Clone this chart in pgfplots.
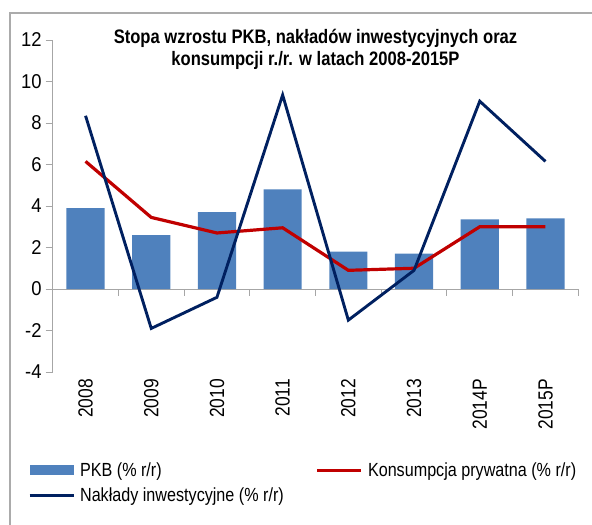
\documentclass[border=0pt]{standalone}
\usepackage{fontspec}
\setmainfont{Liberation Sans}[FakeStretch=0.85]
\newfontfamily\yfont{Liberation Sans}[FakeStretch=0.92]
\usepackage{pgfplots}
\pgfplotsset{compat=1.18}
\definecolor{barblue}{HTML}{4F81BD}
\definecolor{consred}{HTML}{C00000}
\definecolor{invnavy}{HTML}{002060}
\definecolor{axgray}{HTML}{A6A6A6}
\definecolor{framegray}{HTML}{ABABAB}
\begin{document}
\begin{tikzpicture}[x=1pt,y=1pt]
\path[use as bounding box] (0,0) rectangle (592,-525);
\draw[framegray, line width=1.5pt] (10,-525) -- (10,-13) -- (592,-13);
\begin{axis}[
  at={(52.7pt,-372pt)}, anchor=south west,
  width=525.6pt, height=332pt, scale only axis,
  xmin=-0.5, xmax=7.5, ymin=-4, ymax=12,
  axis line style={draw=none},
  xtick={0,1,2,3,4,5,6,7},
  xticklabels={2008,2009,2010,2011,2012,2013,2014P,2015P},
  xtick style={draw=none},
  xticklabel style={rotate=90, anchor=east, inner sep=0pt, font=\fontsize{20.5}{24}\selectfont},
  ytick={-4,-2,0,2,4,6,8,10,12},
  ytick pos=left, tick align=outside, major tick length=7pt,
  ytick style={draw=axgray, line width=1pt},
  yticklabel style={font=\yfont\fontsize{20}{23}\selectfont, inner sep=0pt, xshift=-4pt},
  /pgf/number format/assume math mode=true,
  clip=false,
  legend columns=2,
  legend cell align=left,
  legend style={
    at={(axis description cs:-0.047,-0.266)}, anchor=north west,
    draw=none, fill=none, inner sep=0pt,
    font=\fontsize{19}{22}\selectfont,
    /tikz/every odd column/.append style={column sep=3pt},
    /tikz/every even column/.append style={column sep=30pt},
    row sep=6pt,
  },
]
\draw[axgray, line width=1pt] (axis cs:-0.5,-4) -- (axis cs:-0.5,12);
\draw[axgray, line width=1pt] (axis cs:-0.5,0) -- (axis cs:7.5,0);
\draw[axgray, line width=1pt] (axis cs:0.5,0) -- ++(0pt,-7pt);
\draw[axgray, line width=1pt] (axis cs:1.5,0) -- ++(0pt,-7pt);
\draw[axgray, line width=1pt] (axis cs:2.5,0) -- ++(0pt,-7pt);
\draw[axgray, line width=1pt] (axis cs:3.5,0) -- ++(0pt,-7pt);
\draw[axgray, line width=1pt] (axis cs:4.5,0) -- ++(0pt,-7pt);
\draw[axgray, line width=1pt] (axis cs:5.5,0) -- ++(0pt,-7pt);
\draw[axgray, line width=1pt] (axis cs:6.5,0) -- ++(0pt,-7pt);
\draw[axgray, line width=1pt] (axis cs:7.5,0) -- ++(0pt,-7pt);
\addplot[ybar, bar width=0.58, fill=barblue, draw=none,
  legend image code/.code={\fill[barblue] (0pt,-5pt) rectangle (44pt,5pt);}]
  coordinates {(0,3.9) (1,2.6) (2,3.7) (3,4.8) (4,1.8) (5,1.7) (6,3.35) (7,3.4)};
\addlegendentry{PKB (\% r/r)}
\addplot[consred, line width=3.2pt,
  legend image code/.code={\draw[consred, line width=3.2pt] (0pt,0pt) -- (44pt,0pt);}]
  coordinates {(0,6.15) (1,3.45) (2,2.7) (3,2.95) (4,0.9) (5,1.0) (6,3.0) (7,3.0)};
\addlegendentry{Konsumpcja prywatna (\% r/r)}
\addplot[invnavy, line width=2.9pt,
  legend image code/.code={\draw[invnavy, line width=2.9pt] (0pt,0pt) -- (44pt,0pt);}]
  coordinates {(0,8.35) (1,-1.9) (2,-0.4) (3,9.35) (4,-1.5) (5,0.9) (6,9.05) (7,6.15)};
\addlegendentry{Nakłady inwestycyjne (\% r/r)}
\end{axis}
\node[font=\bfseries\fontsize{19.5}{23}\selectfont, anchor=base] at (315.5,-43.3) {Stopa wzrostu PKB, nakładów inwestycyjnych oraz};
\node[font=\bfseries\fontsize{19.5}{23}\selectfont, anchor=base] at (315.5,-65) {konsumpcji r./r. w latach 2008-2015P};
\end{tikzpicture}
\end{document}
